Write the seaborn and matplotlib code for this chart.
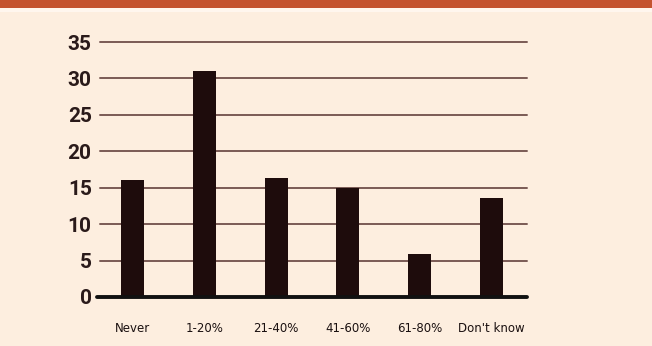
import matplotlib
matplotlib.use("Agg")
import matplotlib.pyplot as plt
import seaborn as sns
import pandas as pd

categories = ["Never", "1-20%", "21-40%", "41-60%", "61-80%", "Don't know"]
values = [16.0, 31.0, 16.3, 15.0, 5.9, 13.6]
yticks = [0, 5, 10, 15, 20, 25, 30, 35]

df = pd.DataFrame({"cat": categories, "val": values})

sns.set_style("white")
bg = "#fdeedf"
fig = plt.figure(figsize=(6.52, 3.46), dpi=100, facecolor=bg)
# top band
fig.patches.append(plt.Rectangle((0, 1 - 8/346), 1, 8/346, transform=fig.transFigure,
                                 facecolor="#c4532f", edgecolor="none", zorder=0))
fig.patches.append(plt.Rectangle((0, 1 - 12/346), 1, 4/346, transform=fig.transFigure,
                                 facecolor="#fff6ee", edgecolor="none", zorder=0))

ax = fig.add_axes([100/652, 49/346, 427/652, 255/346])
ax.set_facecolor(bg)
sns.barplot(data=df, x="cat", y="val", order=categories, color="#1e0c0c",
            width=0.32, saturation=1, linewidth=0, ax=ax, zorder=3)
ax.set_xlim(-0.46, 5.5)
ax.set_ylim(0, 35)
ax.set_yticks(yticks)
ax.set_yticklabels([str(t) for t in yticks], fontsize=15, fontweight="bold",
                   family=["Roboto", "DejaVu Sans"], color="#2a1a1a")
for t in yticks[1:]:
    ax.axhline(t, color="#7a5a55", lw=1.4, zorder=1, clip_on=False)
ax.axhline(0, color="#111111", lw=2.8, zorder=4, xmin=-0.007, clip_on=False)
for s in ax.spines.values():
    s.set_visible(False)
ax.tick_params(axis="y", length=0, pad=6)
ax.tick_params(axis="x", length=0, pad=18, labelsize=8.5, colors="#1a1010")
ax.set_xlabel("")
ax.set_ylabel("")
fig.savefig("out.png", dpi=100, facecolor=bg)
